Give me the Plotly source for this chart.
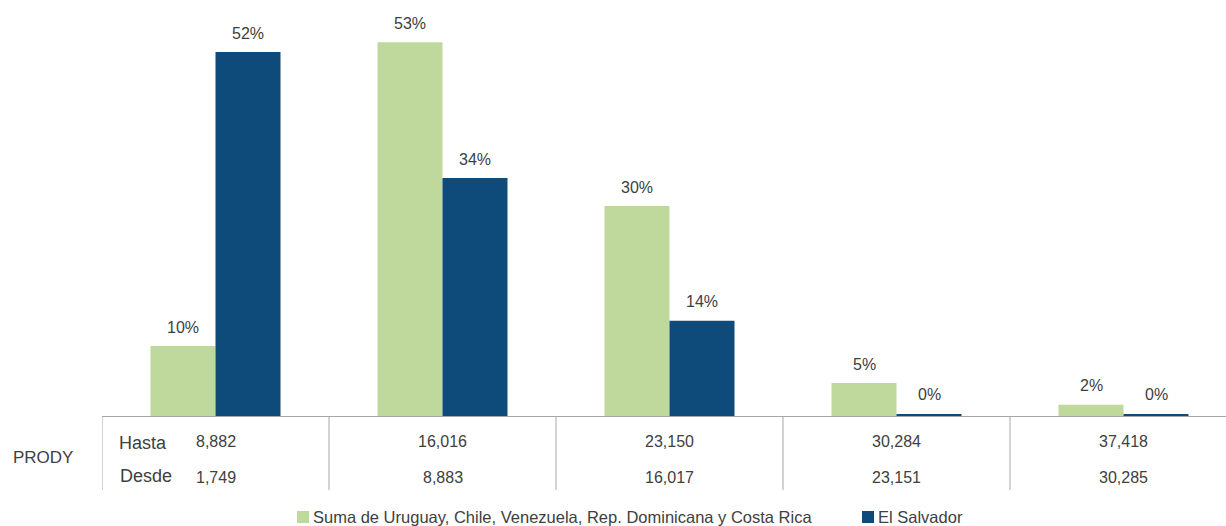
import plotly.graph_objects as go

# PRODY ranges (upper and lower bound of each bracket)
hasta = ["8,882", "16,016", "23,150", "30,284", "37,418"]
desde = ["1,749", "8,883", "16,017", "23,151", "30,285"]

# Share of exports in each bracket (%)
grupo_vals = [10.0, 53.4, 30.0, 4.7, 1.6]
salvador_vals = [52.0, 34.0, 13.6, 0.3, 0.3]

serie_grupo = "Suma de Uruguay, Chile, Venezuela, Rep. Dominicana y Costa Rica"
serie_salvador = "El Salvador"

GREEN = "#BFD89B"
BLUE = "#0E4A7A"
TEXT = "#404040"
GRID = "#A6A6A6"
FONT = "Liberation Sans, Arial, sans-serif"

W, H = 1226, 526
ML, MR, MT, MB = 102, 0, 10, 110
plot_h = H - MT - MB
plot_w = W - ML - MR
cat_px = 227.0
bar_px = 65.0

xs = list(range(len(hasta)))

fig = go.Figure()
fig.add_trace(go.Bar(x=xs, y=grupo_vals, name=serie_grupo, marker=dict(color=GREEN, line=dict(width=0))))
fig.add_trace(go.Bar(x=xs, y=salvador_vals, name=serie_salvador, marker=dict(color=BLUE, line=dict(width=0))))

ann = []
# value labels above bars
for i in xs:
    for vals, shift in ((grupo_vals, -bar_px / 2), (salvador_vals, bar_px / 2)):
        ann.append(dict(x=i, y=vals[i], xref="x", yref="y", text=f"{vals[i]:.0f}%",
                        showarrow=False, xshift=shift, yshift=19, yanchor="middle",
                        font=dict(size=16, color=TEXT, family=FONT)))


def py(px):
    """pixel y (from top of page) -> paper coordinate"""
    return (H - MB - px) / plot_h


def px_x(px):
    return (px - ML) / plot_w


# table of PRODY bounds
for i in xs:
    ann.append(dict(x=i, y=py(441), xref="x", yref="paper", text=hasta[i], showarrow=False,
                    xanchor="center", yanchor="middle", font=dict(size=16, color=TEXT, family=FONT)))
    ann.append(dict(x=i, y=py(478), xref="x", yref="paper", text=desde[i], showarrow=False,
                    xanchor="center", yanchor="middle", font=dict(size=16, color=TEXT, family=FONT)))
ann.append(dict(x=px_x(117), y=py(443), xref="paper", yref="paper", text="Hasta", showarrow=False,
                xanchor="left", yanchor="middle", font=dict(size=18, color=TEXT, family=FONT)))
ann.append(dict(x=px_x(118), y=py(476), xref="paper", yref="paper", text="Desde", showarrow=False,
                xanchor="left", yanchor="middle", font=dict(size=18, color=TEXT, family=FONT)))
ann.append(dict(x=px_x(11), y=py(457), xref="paper", yref="paper", text="PRODY", showarrow=False,
                xanchor="left", yanchor="middle", font=dict(size=17, color=TEXT, family=FONT)))

shapes = []
for k in range(len(hasta)):
    shapes.append(dict(type="line", xref="x", yref="paper", x0=k - 0.5, x1=k - 0.5,
                       y0=0, y1=py(490), line=dict(color=GRID, width=1)))

# legend drawn below the table
legend_items = [(serie_grupo, GREEN, 297), (serie_salvador, BLUE, 862)]
for name, color, x0 in legend_items:
    shapes.append(dict(type="rect", xref="paper", yref="paper",
                       x0=px_x(x0), x1=px_x(x0 + 12), y0=py(523), y1=py(511),
                       fillcolor=color, line=dict(width=0)))
    ann.append(dict(x=px_x(x0 + 14), y=py(517), xref="paper", yref="paper", text=name,
                    showarrow=False, xanchor="left", yanchor="middle",
                    font=dict(size=16.5, color=TEXT, family=FONT)))

x_hi = -0.5 + plot_w / cat_px

fig.update_layout(
    width=W, height=H,
    margin=dict(l=ML, r=MR, t=MT, b=MB, autoexpand=False),
    paper_bgcolor="white", plot_bgcolor="white",
    barmode="group", bargap=1 - 2 * bar_px / cat_px, bargroupgap=0,
    xaxis=dict(range=[-0.5, x_hi], showticklabels=False, ticks="", showgrid=False,
               zeroline=False, showline=True, linecolor=GRID, linewidth=1),
    yaxis=dict(range=[0, plot_h / 7.0], visible=False, showgrid=False, zeroline=False),
    showlegend=False,
    annotations=ann,
    shapes=shapes,
    font=dict(family=FONT, color=TEXT),
)

fig.write_html("out.html")
